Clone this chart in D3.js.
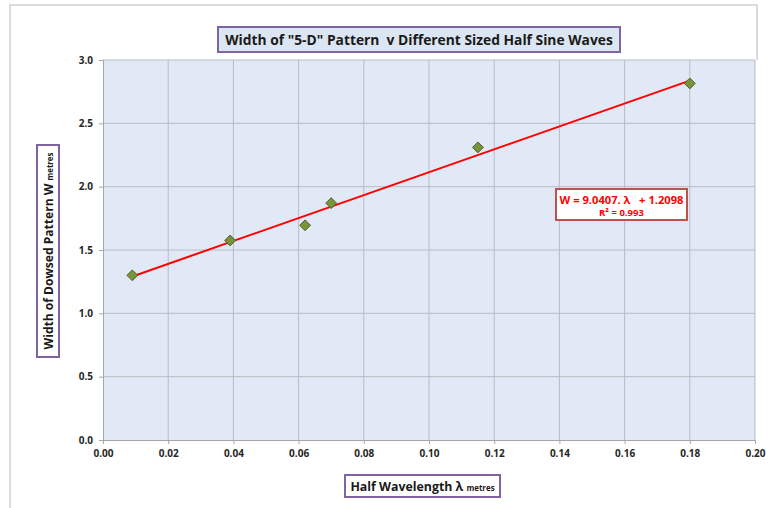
<!DOCTYPE html>
<html>
<head>
<meta charset="utf-8">
<script src="https://cdn.jsdelivr.net/npm/d3@7"></script>
<style>
  body { margin: 0; background: #fff; }
  text { font-family: "Open Sans", "Noto Sans", sans-serif; white-space: pre; }
</style>
</head>
<body>
<script>
// Data
const halfWavelength = [0.009, 0.039, 0.062, 0.070, 0.115, 0.180];
const patternWidth = [1.30, 1.575, 1.695, 1.87, 2.31, 2.815];
const xTicks = [0, 0.02, 0.04, 0.06, 0.08, 0.10, 0.12, 0.14, 0.16, 0.18, 0.20];
const yTicks = [0, 0.5, 1.0, 1.5, 2.0, 2.5, 3.0];
const slope = 9.0407, intercept = 1.2098;
const fitRange = [0.009, 0.18];

const W = 768, H = 508;
const margin = { top: 60, right: 13, bottom: 68, left: 103 };
const width = W - margin.left - margin.right;
const height = H - margin.top - margin.bottom;

const svg = d3.select('body').append('svg')
    .attr('width', W)
    .attr('height', H);

// shrink a text's font so it spans the wanted length
function fit(sel, target) {
    const len = sel.node().getComputedTextLength();
    const k = target / len;
    sel.style('font-size', (parseFloat(sel.style('font-size')) * k) + 'px');
    sel.selectAll('tspan').each(function() {
        const t = d3.select(this);
        t.style('font-size', (parseFloat(t.style('font-size')) * k) + 'px');
    });
}

// outer chart frame
svg.append('path')
    .attr('d', `M10,${H} L10,5 L757,5 L757,${margin.top}`)
    .attr('fill', 'none')
    .attr('stroke', '#d0d0d0')
    .attr('stroke-width', 1.5);

const g = svg.append('g')
    .attr('transform', `translate(${margin.left},${margin.top})`);

const x = d3.scaleLinear().domain([0, 0.2]).range([0, width]);
const y = d3.scaleLinear().domain([0, 3]).range([height, 0]);

g.append('rect')
    .attr('width', width)
    .attr('height', height)
    .attr('fill', '#e1e9f6');

g.selectAll('.vgrid')
    .data(xTicks.slice(1))
    .enter().append('line')
    .attr('x1', d => x(d)).attr('x2', d => x(d))
    .attr('y1', 0).attr('y2', height)
    .attr('stroke', '#b9bcc2').attr('stroke-width', 1);

g.selectAll('.hgrid')
    .data(yTicks.slice(1))
    .enter().append('line')
    .attr('x1', 0).attr('x2', width)
    .attr('y1', d => y(d)).attr('y2', d => y(d))
    .attr('stroke', '#b9bcc2').attr('stroke-width', 1);

const xAxis = g.append('g')
    .attr('transform', `translate(0,${height})`)
    .call(d3.axisBottom(x).tickValues(xTicks).tickFormat(d3.format('.2f')).tickSize(4).tickPadding(6));

const yAxis = g.append('g')
    .call(d3.axisLeft(y).tickValues(yTicks).tickFormat(d3.format('.1f')).tickSize(4).tickPadding(6));

[xAxis, yAxis].forEach(a => {
    a.select('.domain').attr('stroke', '#a6a6a6');
    a.selectAll('.tick line').attr('stroke', '#a6a6a6');
    a.selectAll('.tick text')
        .attr('fill', '#262626')
        .style('font-size', '10px')
        .style('font-weight', 'bold')
        .style('font-family', '"Open Sans", sans-serif');
});

// trend line
g.append('line')
    .attr('x1', x(fitRange[0])).attr('y1', y(slope * fitRange[0] + intercept))
    .attr('x2', x(fitRange[1])).attr('y2', y(slope * fitRange[1] + intercept))
    .attr('stroke', '#ff0000')
    .attr('stroke-width', 2);

// diamond markers
const points = halfWavelength.map((d, i) => ({ x: d, y: patternWidth[i] }));
g.selectAll('.pt')
    .data(points)
    .enter().append('path')
    .attr('d', d3.symbol().type(d3.symbolDiamond2).size(75))
    .attr('transform', d => `translate(${x(d.x)},${y(d.y)})`)
    .attr('fill', '#77933c')
    .attr('stroke', '#4f6228')
    .attr('stroke-width', 1);

// title box
svg.append('rect')
    .attr('x', 218).attr('y', 27).attr('width', 402).attr('height', 25)
    .attr('fill', '#dce6f2').attr('stroke', '#8064a2').attr('stroke-width', 2);
const title = svg.append('text')
    .attr('x', 419).attr('y', 45)
    .attr('text-anchor', 'middle')
    .style('font-size', '15.5px').style('font-weight', 'bold')
    .attr('fill', '#1a1a1a')
    .text('Width of "5-D" Pattern  v Different Sized Half Sine Waves');
fit(title, 388);

// y label box
svg.append('rect')
    .attr('x', 37).attr('y', 145).attr('width', 22).attr('height', 212)
    .attr('fill', '#fff').attr('stroke', '#8064a2').attr('stroke-width', 2);
const yl = svg.append('text')
    .attr('transform', 'translate(52.5,251) rotate(-90)')
    .attr('text-anchor', 'middle')
    .style('font-size', '12.5px').style('font-weight', 'bold')
    .attr('fill', '#1a1a1a');
yl.append('tspan').text('Width of Dowsed Pattern W ');
yl.append('tspan').style('font-size', '8px').text('metres');
fit(yl, 200);

// x label box
svg.append('rect')
    .attr('x', 345).attr('y', 475).attr('width', 155).attr('height', 22)
    .attr('fill', '#fff').attr('stroke', '#8064a2').attr('stroke-width', 2);
const xl = svg.append('text')
    .attr('x', 422.5).attr('y', 490.5)
    .attr('text-anchor', 'middle')
    .style('font-size', '12.5px').style('font-weight', 'bold')
    .attr('fill', '#1a1a1a');
xl.append('tspan').text('Half Wavelength λ ');
xl.append('tspan').style('font-size', '8px').text('metres');
fit(xl, 145);

// equation box
svg.append('rect')
    .attr('x', 556).attr('y', 189).attr('width', 131).attr('height', 31)
    .attr('fill', '#fff').attr('stroke', '#c0504d').attr('stroke-width', 2);
const eq = svg.append('text')
    .attr('x', 621.5).attr('y', 204)
    .attr('text-anchor', 'middle')
    .style('font-size', '11.5px').style('font-weight', 'bold')
    .attr('fill', '#ff0000')
    .text(`W = ${slope.toFixed(4)}. λ   + ${intercept.toFixed(4)}`);
fit(eq, 124);
const r2 = svg.append('text')
    .attr('x', 621.5).attr('y', 215.5)
    .attr('text-anchor', 'middle')
    .style('font-size', '8px').style('font-weight', 'bold')
    .attr('fill', '#ff0000')
    .text('R² = 0.993');
fit(r2, 45);
</script>
</body>
</html>
